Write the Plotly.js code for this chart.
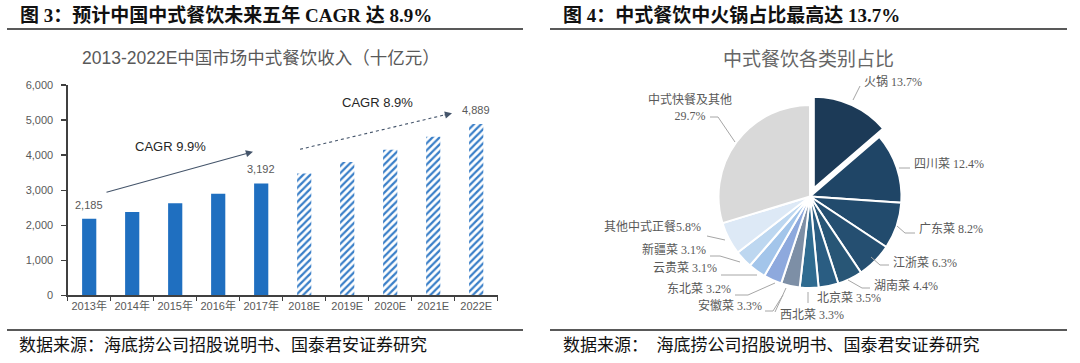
<!DOCTYPE html>
<html><head><meta charset="utf-8">
<script src="https://cdn.plot.ly/plotly-3.0.1.min.js"></script>
<style>html,body{margin:0;padding:0;background:#fff;}</style>
</head><body><div id="chart" style="width:1080px;height:363px;"></div>
<script>
// ---------- data: left chart ----------
const years = ['2013年','2014年','2015年','2016年','2017年','2018E','2019E','2020E','2021E','2022E'];
const revenue = [2185, 2380, 2625, 2900, 3192, 3475, 3805, 4150, 4520, 4889];
const isForecast = [false, false, false, false, false, true, true, true, true, true];
const labeledYears = ['2013年', '2017年', '2022E'];
const yTicks = [0, 1000, 2000, 3000, 4000, 5000, 6000];
const cagrHist = 'CAGR 9.9%';
const cagrFcst = 'CAGR 8.9%';

// ---------- data: right chart ----------
const pieLabels = ['火锅','四川菜','广东菜','江浙菜','湖南菜','北京菜','西北菜','安徽菜','东北菜','云贵菜','新疆菜','其他中式正餐','中式快餐及其他'];
const pieShares = [13.7, 12.4, 8.2, 6.3, 4.4, 3.5, 3.3, 3.3, 3.2, 3.1, 3.1, 5.8, 29.7];
const piePull   = [0.1, 0, 0, 0, 0, 0, 0, 0, 0, 0, 0, 0, 0];

// ---------- texts ----------
const headLeft = '图 3：预计中国中式餐饮未来五年 CAGR 达 8.9%';
const headRight = '图 4：中式餐饮中火锅占比最高达 13.7%';
const titleLeft = '2013-2022E中国市场中式餐饮收入（十亿元）';
const titleRight = '中式餐饮各类别占比';
const footLeft = '数据来源：海底捞公司招股说明书、国泰君安证券研究';
const footRight = '数据来源：  海底捞公司招股说明书、国泰君安证券研究';

// ---------- styling ----------
const W = 1080, H = 363;
const X = p => p / W, Y = p => 1 - p / H;
const pieColors = ['#1c3a57','#1f4566','#224b6d','#254f71','#285676','#2a5d82','#2f6b90','#7d8fa6','#8ea9dd','#a3c5ea','#bdd7f0','#dde9f6','#d9d9d9'];
const gray = '#595959';
const sansCJK = 'Liberation Sans, Noto Sans CJK SC, sans-serif';
const serifCJK = 'Liberation Serif, Noto Sans CJK SC, serif';

// pie label placement (layout only): text anchor & leader-line points in page pixels
const pieLabelLayout = [
  {x:862, y:81,  xa:'left',  sep:' ', line:[[853,100],[860,86]]},
  {x:912, y:164, xa:'left',  sep:' ', line:[[899,168],[910,168]]},
  {x:917, y:229, xa:'left',  sep:' ', line:[[897,226],[905,233],[915,233]]},
  {x:891, y:263, xa:'left',  sep:' ', line:[[871,257],[880,265],[889,265]]},
  {x:872, y:285, xa:'left',  sep:' ', line:[[848,280],[862,288],[870,288]]},
  {x:815, y:298, xa:'left',  sep:' ', line:[[808,292],[808,303]]},
  {x:778, y:315, xa:'left',  sep:' ', line:[[786,288],[775,312]]},
  {x:764, y:305, xa:'right', sep:' ', line:[[783,295],[773,311],[765,311]]},
  {x:733, y:289, xa:'right', sep:' ', line:[[775,283],[748,295],[735,295]]},
  {x:719, y:268, xa:'right', sep:' ', line:[[757,275],[721,275]]},
  {x:708, y:249, xa:'right', sep:' ', line:[[740,262],[720,256],[710,256]]},
  {x:703, y:226, xa:'right', sep:'',  line:[[725,240],[707,236]]},
  {x:690, y:107, xa:'center',sep:'<br>', line:[[735,142],[718,117],[710,117]]}
];

const barTrace = {
  type: 'bar', x: years, y: revenue, xaxis: 'x', yaxis: 'y',
  marker: {
    color: '#1f6fc0',
    line: {width: 0},
    pattern: {shape: isForecast.map(f => f ? '/' : ''), fgcolor: '#3a7fc8', bgcolor: '#ffffff', size: 5, solidity: 0.45}
  },
  hoverinfo: 'skip'
};

const pieTrace = {
  type: 'pie', labels: pieLabels, values: pieShares, sort: false, direction: 'clockwise', rotation: 0,
  pull: piePull, textinfo: 'none', hoverinfo: 'skip',
  marker: {colors: pieColors, line: {color: '#ffffff', width: 2}},
  domain: {x: [X(709.35), X(910.65)], y: [Y(297.15), Y(95.85)]}
};

const annotations = [];
const shapes = [];
const txt = (text, x, y, size, color, family, xa, extra) => Object.assign({
  text, x: X(x), y: Y(y), xref: 'paper', yref: 'paper', xanchor: xa || 'left', yanchor: 'middle',
  showarrow: false, font: {size, color, family}
}, extra || {});

// headers, titles, footers
annotations.push(txt('<b>' + headLeft + '</b>', 18, 15, 19, '#111', serifCJK));
annotations.push(txt('<b>' + headRight + '</b>', 561, 15, 19, '#111', serifCJK));
annotations.push(txt(titleLeft, 261, 58, 17.5, gray, 'Liberation Sans, Noto Sans CJK SC', 'center'));
annotations.push(txt(titleRight, 808, 57, 19, '#666', 'Noto Sans CJK SC', 'center'));
annotations.push(txt(footLeft, 17, 345, 17, '#111', serifCJK));
annotations.push(txt(footRight, 561, 345, 17, '#111', serifCJK));
[[7, 523], [550, 1067]].forEach(([a, b]) => {
  [29, 330].forEach(yy => shapes.push({type: 'line', xref: 'paper', yref: 'paper', x0: X(a), x1: X(b), y0: Y(yy), y1: Y(yy), line: {color: '#222', width: 1.5}}));
});

// bar value labels (data anchored)
years.forEach((yr, i) => {
  if (labeledYears.includes(yr)) {
    annotations.push({xref: 'x', yref: 'y', x: yr, y: revenue[i], yshift: 14, yanchor: 'middle', showarrow: false,
      text: revenue[i].toLocaleString('en-US'), font: {size: 11, color: gray, family: sansCJK}});
  }
});

// CAGR annotations
annotations.push(txt(cagrHist, 170, 146, 13, '#262626', sansCJK, 'center'));
annotations.push(txt(cagrFcst, 377.5, 103, 13, '#262626', sansCJK, 'center'));
annotations.push({xref: 'paper', yref: 'paper', x: X(253), y: Y(151.7), ax: 105 - 253, ay: 192.7 - 151.7, text: '',
  showarrow: true, arrowhead: 2, arrowsize: 1.3, arrowwidth: 1.1, arrowcolor: '#44546a', standoff: 0, startstandoff: 0});
shapes.push({type: 'line', xref: 'paper', yref: 'paper', x0: X(300), y0: Y(149.3), x1: X(446), y1: Y(114.6), line: {color: '#44546a', width: 1.1, dash: 'dot'}});
annotations.push({xref: 'paper', yref: 'paper', x: X(452), y: Y(113.3), ax: -9, ay: 2.1, text: '',
  showarrow: true, arrowhead: 2, arrowsize: 1.3, arrowwidth: 1.1, arrowcolor: '#44546a', standoff: 0, startstandoff: 0});

// pie labels and leader lines
pieLabels.forEach((lab, i) => {
  const L = pieLabelLayout[i];
  annotations.push(txt(lab + L.sep + pieShares[i].toFixed(1) + '%', L.x, L.y, 12, gray, serifCJK, L.xa, {align: 'center'}));
  const path = L.line.map((p, k) => (k ? 'L ' : 'M ') + X(p[0]) + ' ' + Y(p[1])).join(' ');
  shapes.push({type: 'path', xref: 'paper', yref: 'paper', path, line: {color: '#a6a6a6', width: 1}});
});

const layout = {
  width: W, height: H, margin: {l: 0, r: 0, t: 0, b: 0},
  paper_bgcolor: '#ffffff', plot_bgcolor: '#ffffff', showlegend: false,
  bargap: 0.67,
  xaxis: {domain: [X(67.7), X(497.7)], type: 'category', showline: true, linecolor: '#404040', linewidth: 1.3,
    ticks: 'outside', tickson: 'boundaries', ticklen: 4, tickcolor: '#404040', tickwidth: 1.3, tickangle: 0,
    tickfont: {size: 11, color: gray, family: sansCJK}, showgrid: false, fixedrange: true},
  yaxis: {domain: [Y(295.3), Y(85)], range: [0, 6000], tickvals: yTicks, tickformat: ',d',
    showline: true, linecolor: '#404040', linewidth: 1.3, ticks: 'outside', ticklen: 5, tickcolor: '#404040', tickwidth: 1.3,
    tickfont: {size: 11, color: gray, family: sansCJK}, showgrid: false, zeroline: false, ticklabelstandoff: 6, fixedrange: true},
  annotations, shapes
};

Plotly.newPlot('chart', [barTrace, pieTrace], layout, {staticPlot: true, displayModeBar: false});
</script></body></html>
